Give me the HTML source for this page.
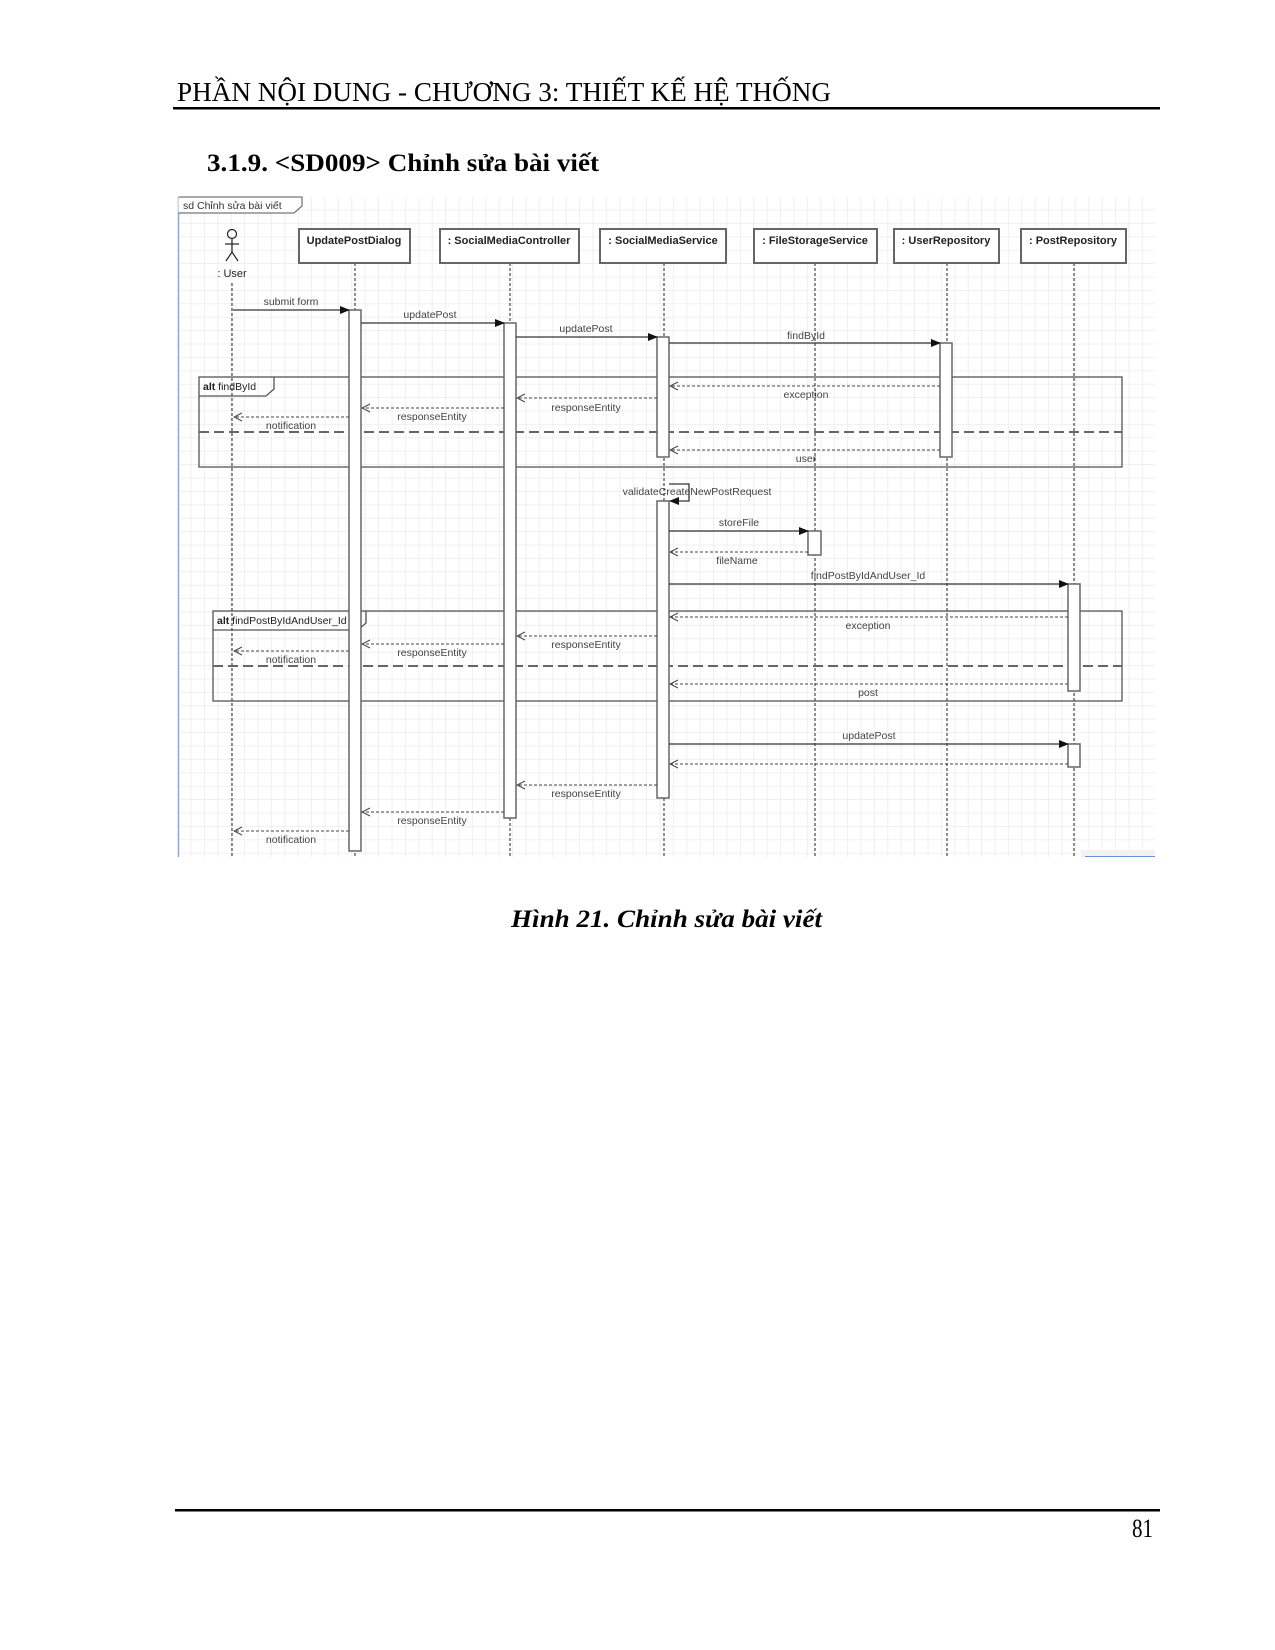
<!DOCTYPE html>
<html><head><meta charset="utf-8"><style>
html,body{margin:0;padding:0;background:#fff;}
svg{display:block;}
</style></head><body>
<svg width="1275" height="1650" viewBox="0 0 1275 1650" xmlns="http://www.w3.org/2000/svg">
<defs>
<pattern id="g" x="178" y="197" width="13.4" height="13.4" patternUnits="userSpaceOnUse">
<path d="M13.4 0V13.4M0 13.4H13.4" fill="none" stroke="#ebebeb" stroke-width="1.5"/>
</pattern>
<marker id="f" markerWidth="10" markerHeight="8" refX="9" refY="4" orient="auto" markerUnits="userSpaceOnUse"><path d="M0,0L10,4L0,8z" fill="#111"/></marker>
<marker id="o" markerWidth="10" markerHeight="10" refX="9" refY="5" orient="auto" markerUnits="userSpaceOnUse"><path d="M1,1L9,5L1,9" fill="none" stroke="#444" stroke-width="1"/></marker>
</defs>
<rect width="1275" height="1650" fill="#fff"/>
<text x="177" y="101" font-family="Liberation Serif,serif" font-size="27" fill="#000" textLength="654" lengthAdjust="spacingAndGlyphs">PHẦN NỘI DUNG - CHƯƠNG 3: THIẾT KẾ HỆ THỐNG</text>
<rect x="173" y="107" width="987" height="2.5" fill="#000"/>
<text x="207" y="171" font-family="Liberation Serif,serif" font-size="25" font-weight="bold" fill="#000" textLength="392" lengthAdjust="spacingAndGlyphs">3.1.9. &lt;SD009&gt; Chỉnh sửa bài viết</text>
<rect x="178" y="197" width="977" height="660" fill="url(#g)"/>
<line x1="178.5" y1="197" x2="178.5" y2="857" stroke="#8aa8d8" stroke-width="1.5"/>
<path d="M178.5,197H302V206L294,213H178.5" fill="#fff" stroke="#555" stroke-width="1"/>
<g font-family="Liberation Sans,sans-serif" font-size="10.5" fill="#333">
<text x="183" y="209">sd  Chỉnh sửa bài viết</text>
</g>
<g stroke="#222" stroke-width="1" stroke-dasharray="3,2">
<line x1="232" y1="283" x2="232" y2="857"/>
<line x1="355" y1="263" x2="355" y2="857"/>
<line x1="510" y1="263" x2="510" y2="857"/>
<line x1="664" y1="263" x2="664" y2="857"/>
<line x1="815" y1="263" x2="815" y2="857"/>
<line x1="947" y1="263" x2="947" y2="857"/>
<line x1="1074" y1="263" x2="1074" y2="857"/>
</g>
<g fill="#fff" stroke="#666" stroke-width="2">
<rect x="299" y="229" width="111" height="34"/>
<rect x="440" y="229" width="139" height="34"/>
<rect x="600" y="229" width="126" height="34"/>
<rect x="754" y="229" width="123" height="34"/>
<rect x="894" y="229" width="105" height="34"/>
<rect x="1021" y="229" width="105" height="34"/>
</g>
<g font-family="Liberation Sans,sans-serif" font-size="11" font-weight="bold" fill="#222" text-anchor="middle">
<text x="354" y="244">UpdatePostDialog</text>
<text x="509" y="244">: SocialMediaController</text>
<text x="663" y="244">: SocialMediaService</text>
<text x="815" y="244">: FileStorageService</text>
<text x="946" y="244">: UserRepository</text>
<text x="1073" y="244">: PostRepository</text>
</g>
<g stroke="#222" stroke-width="1.2" fill="none">
<circle cx="232" cy="234" r="4.5"/>
<line x1="232" y1="238.5" x2="232" y2="252"/>
<line x1="225" y1="244" x2="239" y2="244"/>
<line x1="232" y1="252" x2="226" y2="261"/>
<line x1="232" y1="252" x2="238" y2="261"/>
</g>
<text x="232" y="277" font-family="Liberation Sans,sans-serif" font-size="11" fill="#222" text-anchor="middle">: User</text>
<g fill="none" stroke="#555" stroke-width="1.3">
<rect x="199" y="377" width="923" height="90"/>
<path d="M199,396H266L274,389V377"/>
<rect x="213" y="611" width="909" height="90"/>
<path d="M213,630H358L366,623V611"/>
</g>
<g stroke="#666" stroke-width="2" stroke-dasharray="10,5">
<line x1="199" y1="432" x2="1122" y2="432"/>
<line x1="213" y1="666" x2="1122" y2="666"/>
</g>
<g font-family="Liberation Sans,sans-serif" font-size="10.5" fill="#222">
<text x="203" y="390"><tspan font-weight="bold">alt</tspan> findById</text>
<text x="217" y="624"><tspan font-weight="bold">alt</tspan> findPostByIdAndUser_Id</text>
</g>
<g fill="#fff" stroke="#666" stroke-width="1.5">
<rect x="349" y="310" width="12" height="541"/>
<rect x="504" y="323" width="12" height="495"/>
<rect x="657" y="337" width="12" height="120"/>
<rect x="657" y="501" width="12" height="297"/>
<rect x="940" y="343" width="12" height="114"/>
<rect x="808" y="531" width="13" height="24"/>
<rect x="1068" y="584" width="12" height="107"/>
<rect x="1068" y="744" width="12" height="23"/>
</g>
<g stroke="#333" stroke-width="1.3" marker-end="url(#f)">
<line x1="233" y1="310" x2="349" y2="310"/>
<line x1="361" y1="323" x2="504" y2="323"/>
<line x1="516" y1="337" x2="657" y2="337"/>
<line x1="669" y1="343" x2="940" y2="343"/>
<line x1="669" y1="531" x2="808" y2="531"/>
<line x1="669" y1="584" x2="1068" y2="584"/>
<line x1="669" y1="744" x2="1068" y2="744"/>
<path d="M669,484H689V501H670" fill="none"/>
</g>
<g stroke="#444" stroke-width="1" stroke-dasharray="3,2" marker-end="url(#o)" fill="none">
<line x1="940" y1="386" x2="670" y2="386"/>
<line x1="657" y1="398" x2="517" y2="398"/>
<line x1="504" y1="408" x2="362" y2="408"/>
<line x1="349" y1="417" x2="234" y2="417"/>
<line x1="940" y1="450" x2="670" y2="450"/>
<line x1="808" y1="552" x2="670" y2="552"/>
<line x1="1068" y1="617" x2="670" y2="617"/>
<line x1="657" y1="636" x2="517" y2="636"/>
<line x1="504" y1="644" x2="362" y2="644"/>
<line x1="349" y1="651" x2="234" y2="651"/>
<line x1="1068" y1="684" x2="670" y2="684"/>
<line x1="1068" y1="764" x2="670" y2="764"/>
<line x1="657" y1="785" x2="517" y2="785"/>
<line x1="504" y1="812" x2="362" y2="812"/>
<line x1="349" y1="831" x2="234" y2="831"/>
</g>
<g font-family="Liberation Sans,sans-serif" font-size="10.5" fill="#444" text-anchor="middle">
<text x="291" y="305">submit form</text>
<text x="430" y="318">updatePost</text>
<text x="586" y="332">updatePost</text>
<text x="806" y="339">findById</text>
<text x="806" y="398">exception</text>
<text x="586" y="411">responseEntity</text>
<text x="432" y="420">responseEntity</text>
<text x="291" y="429">notification</text>
<text x="806" y="462">user</text>
<text x="697" y="495">validateCreateNewPostRequest</text>
<text x="739" y="526">storeFile</text>
<text x="737" y="564">fileName</text>
<text x="868" y="579">findPostByIdAndUser_Id</text>
<text x="868" y="629">exception</text>
<text x="586" y="648">responseEntity</text>
<text x="432" y="656">responseEntity</text>
<text x="291" y="663">notification</text>
<text x="868" y="696">post</text>
<text x="869" y="739">updatePost</text>
<text x="586" y="797">responseEntity</text>
<text x="432" y="824">responseEntity</text>
<text x="291" y="843">notification</text>
</g>
<rect x="1081" y="850" width="74" height="7" fill="#f2f2f2"/>
<line x1="1085" y1="856.5" x2="1155" y2="856.5" stroke="#6a93d4" stroke-width="1"/>
<text x="511" y="927" font-family="Liberation Serif,serif" font-size="25" font-weight="bold" font-style="italic" fill="#000" textLength="311" lengthAdjust="spacingAndGlyphs">Hình 21. Chỉnh sửa bài viết</text>
<rect x="175" y="1509" width="985" height="2.5" fill="#000"/>
<text x="1132" y="1537" font-family="Liberation Serif,serif" font-size="26" fill="#000" textLength="21" lengthAdjust="spacingAndGlyphs">81</text>
</svg>
</body></html>
